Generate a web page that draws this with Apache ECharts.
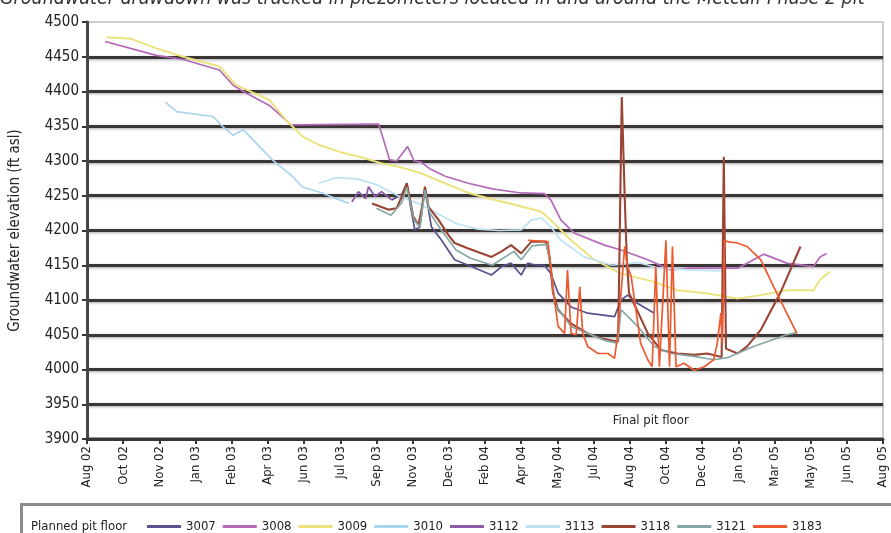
<!DOCTYPE html>
<html>
<head>
<meta charset="utf-8">
<script src="https://cdn.jsdelivr.net/npm/echarts@6/dist/echarts.min.js"></script>
<style>
  html, body { margin: 0; padding: 0; background: #fff; }
  #chart { width: 891px; height: 533px; }
</style>
</head>
<body>
<div id="chart"></div>
<script>
// x values are days counted from 12 Aug 2002 (the axis origin); ticks every 50 days
const xTickLabels = ['Aug 02','Oct 02','Nov 02','Jan 03','Feb 03','Apr 03','Jun 03','Jul 03','Sep 03','Nov 03',
  'Dec 03','Feb 04','Apr 04','May 04','Jul 04','Aug 04','Oct 04','Dec 04','Jan 05','Mar 05','May 05','Jun 05','Aug 05'];
const dayStep = 50;
const levelMin = 3900, levelMax = 4500, levelStep = 50;

const seriesNames = ['Planned pit floor','3007','3008','3009','3010','3112','3113','3118','3121','3183'];

// groundwater elevation (ft asl) readings: [day, elevation]
const pitFloor = [[0,3900],[1100,3900]];
const p3007 = [[421,4244],[435,4252],[442,4268],[447,4235],[453,4201],[460,4205],[467,4260],[476,4205],[490,4186],
  [499,4172],[508,4158],[527,4150],[545,4142],[559,4136],[573,4148],[586,4153],[600,4136],[609,4153],[620,4150],
  [632,4150],[641,4138],[651,4110],[669,4090],[692,4081],[729,4076],[738,4100],[747,4107],[761,4095],[784,4081]];
const p3008 = [[25,4472],[60,4462],[96,4452],[133,4446],[183,4431],[202,4409],[216,4400],[252,4380],[275,4359],
  [282,4352],[403,4353],[410,4330],[418,4302],[428,4300],[443,4321],[452,4300],[462,4298],[475,4288],[495,4278],
  [527,4268],[560,4260],[600,4254],[632,4253],[641,4244],[655,4215],[674,4196],[715,4179],[738,4172],[775,4158],
  [807,4143],[830,4146],[900,4146],[935,4166],[967,4153],[1004,4148],[1013,4162],[1022,4167]];
const p3009 = [[27,4478],[60,4476],[96,4462],[133,4450],[183,4436],[206,4409],[252,4388],[275,4359],[298,4335],
  [321,4323],[349,4313],[380,4305],[406,4297],[430,4292],[463,4282],[490,4270],[527,4254],[560,4245],[591,4237],
  [628,4227],[646,4210],[669,4186],[701,4158],[738,4138],[784,4126],[816,4114],[853,4110],[899,4102],[931,4107],
  [967,4114],[1004,4114],[1013,4129],[1027,4141]];
const p3010 = [[108,4385],[124,4371],[174,4364],[188,4349],[202,4337],[216,4345],[225,4335],[257,4301],[285,4277],
  [297,4263],[325,4254],[349,4244],[362,4239]];
const p3112 = [[366,4241],[375,4256],[385,4246],[389,4263],[398,4249],[407,4256],[421,4244]];
const p3113 = [[320,4268],[345,4276],[375,4274],[400,4266],[430,4250],[460,4238],[485,4224],[510,4210],[540,4202],
  [570,4200],[600,4201],[614,4215],[628,4218],[641,4205],[655,4186],[687,4162],[725,4150],[745,4152],[761,4154],
  [790,4146],[840,4143],[880,4142]];
const p3118 = [[394,4239],[417,4230],[428,4232],[435,4249],[442,4268],[451,4220],[458,4208],[463,4234],[467,4263],
  [472,4234],[486,4215],[499,4194],[508,4182],[527,4174],[559,4162],[573,4170],[586,4179],[600,4167],[614,4184],
  [634,4184],[639,4162],[644,4110],[651,4086],[669,4066],[692,4052],[710,4045],[734,4040],[739,4392],[743,4250],
  [746,4158],[749,4110],[775,4052],[793,4028],[816,4023],[839,4021],[857,4023],[877,4018],[880,4306],[883,4030],
  [899,4023],[912,4033],[931,4057],[958,4110],[986,4177]];
const p3121 = [[400,4232],[420,4222],[435,4240],[442,4262],[452,4215],[460,4205],[467,4258],[474,4225],[490,4200],
  [510,4172],[530,4160],[560,4150],[575,4160],[590,4170],[600,4158],[615,4178],[635,4180],[641,4150],[646,4095],
  [669,4062],[715,4042],[733,4038],[738,4086],[761,4062],[784,4033],[807,4023],[839,4019],[866,4014],[885,4017],
  [921,4033],[967,4050],[981,4053]];
const p3183 = [[609,4186],[637,4184],[641,4148],[646,4100],[651,4062],[660,4052],[664,4143],[669,4052],[676,4050],
  [681,4119],[685,4052],[692,4033],[706,4023],[720,4023],[729,4016],[733,4047],[738,4110],[743,4177],[747,4148],
  [752,4134],[765,4038],[775,4014],[781,4004],[786,4148],[791,4004],[800,4186],[805,4004],[809,4177],[814,4004],
  [825,4009],[839,3999],[853,4004],[866,4014],[871,4038],[876,4081],[878,4038],[881,4186],[885,4184],[899,4182],
  [912,4177],[931,4158],[949,4119],[967,4081],[981,4052]];

const seriesData = [pitFloor, p3007, p3008, p3009, p3010, p3112, p3113, p3118, p3121, p3183];
const seriesColors = ['#3a3636','#5b4f8e','#b46ab8','#ece27c','#a9d6ec','#8c5aa6','#bfe2f2','#9a4534','#86a6a4','#ee5a30'];
const seriesWidths = [3, 1.7, 1.7, 1.9, 1.7, 1.7, 1.7, 2.1, 1.7, 1.7];

const FONT = "'Liberation Sans Narrow','DejaVu Sans Condensed','Liberation Sans',sans-serif";
const chart = echarts.init(document.getElementById('chart'), null, { renderer: 'canvas' });

const series = seriesNames.map((name, i) => ({
  name,
  type: 'line',
  data: seriesData[i],
  symbol: 'none',
  smooth: false,
  z: i === 0 ? 1 : 3,
  lineStyle: { color: seriesColors[i], width: seriesWidths[i] },
  itemStyle: { color: seriesColors[i] },
  emphasis: { disabled: true },
  animation: false
}));

// label for the pit floor line
series[0].markPoint = {
  symbol: 'circle', symbolSize: 0, silent: true,
  data: [{ coord: [779, levelMin] }],
  label: { show: true, position: 'top', distance: 12, formatter: 'Final pit floor',
    fontFamily: FONT, fontSize: 13, color: '#222' }
};

const legendText = { fontFamily: FONT, fontSize: 13, color: '#222' };

chart.setOption({
  animation: false,
  backgroundColor: '#fff',
  grid: { left: 84, right: 8, top: 22, bottom: 94, show: true, borderColor: '#cfcfcf', borderWidth: 2, backgroundColor: 'transparent' },
  xAxis: {
    type: 'value', min: 0, max: dayStep * (xTickLabels.length - 1), interval: dayStep,
    axisLine: { show: true, onZero: false, lineStyle: { color: '#3a3636', width: 3 } },
    axisTick: { show: true, length: 5, lineStyle: { color: '#3a3636', width: 2 } },
    splitLine: { show: false },
    axisLabel: { rotate: 90, margin: 7, fontFamily: FONT, fontSize: 13, color: '#222',
      formatter: v => xTickLabels[Math.round(v / dayStep)] || '' }
  },
  yAxis: {
    type: 'value', min: levelMin, max: levelMax, interval: levelStep,
    name: 'Groundwater elevation (ft asl)', nameLocation: 'middle', nameGap: 64, nameRotate: 90,
    nameTextStyle: { fontFamily: FONT, fontSize: 15, color: '#222' },
    axisLine: { show: true, lineStyle: { color: '#4a4646', width: 3 } },
    axisTick: { show: true, length: 5, lineStyle: { color: '#3a3636', width: 2 } },
    axisLabel: { margin: 8, fontFamily: FONT, fontSize: 15, color: '#222', formatter: v => String(v) },
    splitLine: { show: true, showMinLine: false, showMaxLine: false,
      lineStyle: { color: '#3a3636', width: 3, shadowColor: 'rgba(0,0,0,0.35)', shadowBlur: 3, shadowOffsetY: 1 } }
  },
  legend: [
    {
      left: -13, top: 515, itemWidth: 34, itemHeight: 3, icon: 'rect', selectedMode: false,
      textStyle: legendText,
      data: [{ name: seriesNames[0], itemStyle: { opacity: 0 } }]
    },
    {
      left: 142, top: 515, itemWidth: 34, itemHeight: 3, itemGap: 7, icon: 'rect', selectedMode: false,
      textStyle: legendText,
      data: seriesNames.slice(1)
    }
  ],
  graphic: [
    { type: 'rect', left: 20, top: 503, z: -1, silent: true,
      shape: { width: 900, height: 40 },
      style: { fill: '#fff', stroke: '#8e8a8a', lineWidth: 3 } },
    { type: 'text', left: 0, top: -11, silent: true,
      style: { text: 'Groundwater drawdown was tracked in piezometers located in and around the Metcalf Phase 2 pit',
        font: "italic 19.5px 'Liberation Sans Narrow','DejaVu Sans Condensed',sans-serif", fill: '#333' } }
  ],
  series
});
</script>
</body>
</html>
